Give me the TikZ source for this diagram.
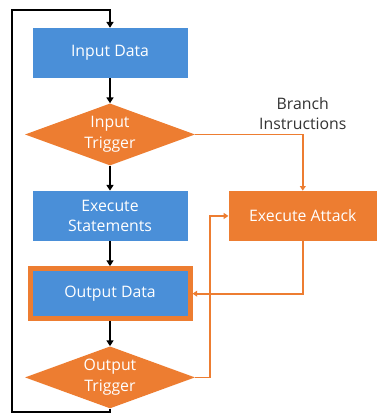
\documentclass[tikz,border=0pt]{standalone}
\usepackage{fontspec}
\setmainfont{Open Sans}
\usepackage{xcolor}
\usetikzlibrary{shapes.geometric, arrows.meta, positioning, calc}

\definecolor{boxblue}{HTML}{4A8FD8}
\definecolor{boxorange}{HTML}{ED7D31}

\begin{document}
\begin{tikzpicture}[
    node distance=0.75cm and 1.22cm,
    font=\fontsize{13.5}{17.5}\selectfont,
    box/.style={rectangle, fill=boxblue, text=white, align=center, minimum width=4.65cm, minimum height=1.5cm, inner sep=1pt},
    outbox/.style={box, draw=boxorange, line width=0.15cm, minimum width=4.8cm, minimum height=1.5cm},
    decision/.style={diamond, aspect=2.75, fill=boxorange, text=white, align=center, minimum width=5.1cm, minimum height=1.86cm, inner sep=0pt},
    attackbox/.style={rectangle, fill=boxorange, text=white, align=center, minimum width=4.45cm, minimum height=1.5cm},
    note/.style={align=center, text=black!80},
    flow/.style={-{Triangle[length=5pt, width=6pt]}, line width=2pt, draw=black},
    attack/.style={-{Triangle[length=4pt, width=5pt]}, line width=1.5pt, draw=boxorange}
]
    \useasboundingbox (0,0) rectangle (11.4,-12.42);

    \node (indata) [box] at (3.3,-1.59) {Input Data};
    \node (intrig) [decision, below=of indata] {Input\\Trigger};
    \node (exec) [box, below=of intrig] {Execute\\Statements};
    \node (outdata) [outbox, below=of exec] {Output Data};
    \node (outtrig) [decision, below=of outdata] {Output\\Trigger};

    \node (execatk) [attackbox, right=of exec] {Execute Attack};
    \node (branch) [note, above=1.7cm of execatk] {Branch\\Instructions};

    \coordinate (loopbot) at (0.36,-12.36);
    \coordinate (looptop) at (0.36,-0.3);

    \draw [flow] (indata) -- (intrig);
    \draw [flow] (intrig) -- (exec);
    \draw [flow] (exec) -- (outdata);
    \draw [flow] (outdata) -- (outtrig);
    \draw [flow] (outtrig.south) |- (loopbot) -- (looptop) -| (indata.north);

    \draw [attack] (intrig.east) -| (execatk.north);
    \draw [attack] (execatk.south) |- (outdata.east);
    \draw [attack] (outtrig.east) -- ++(0.45,0) |- (execatk.west);
\end{tikzpicture}
\end{document}
